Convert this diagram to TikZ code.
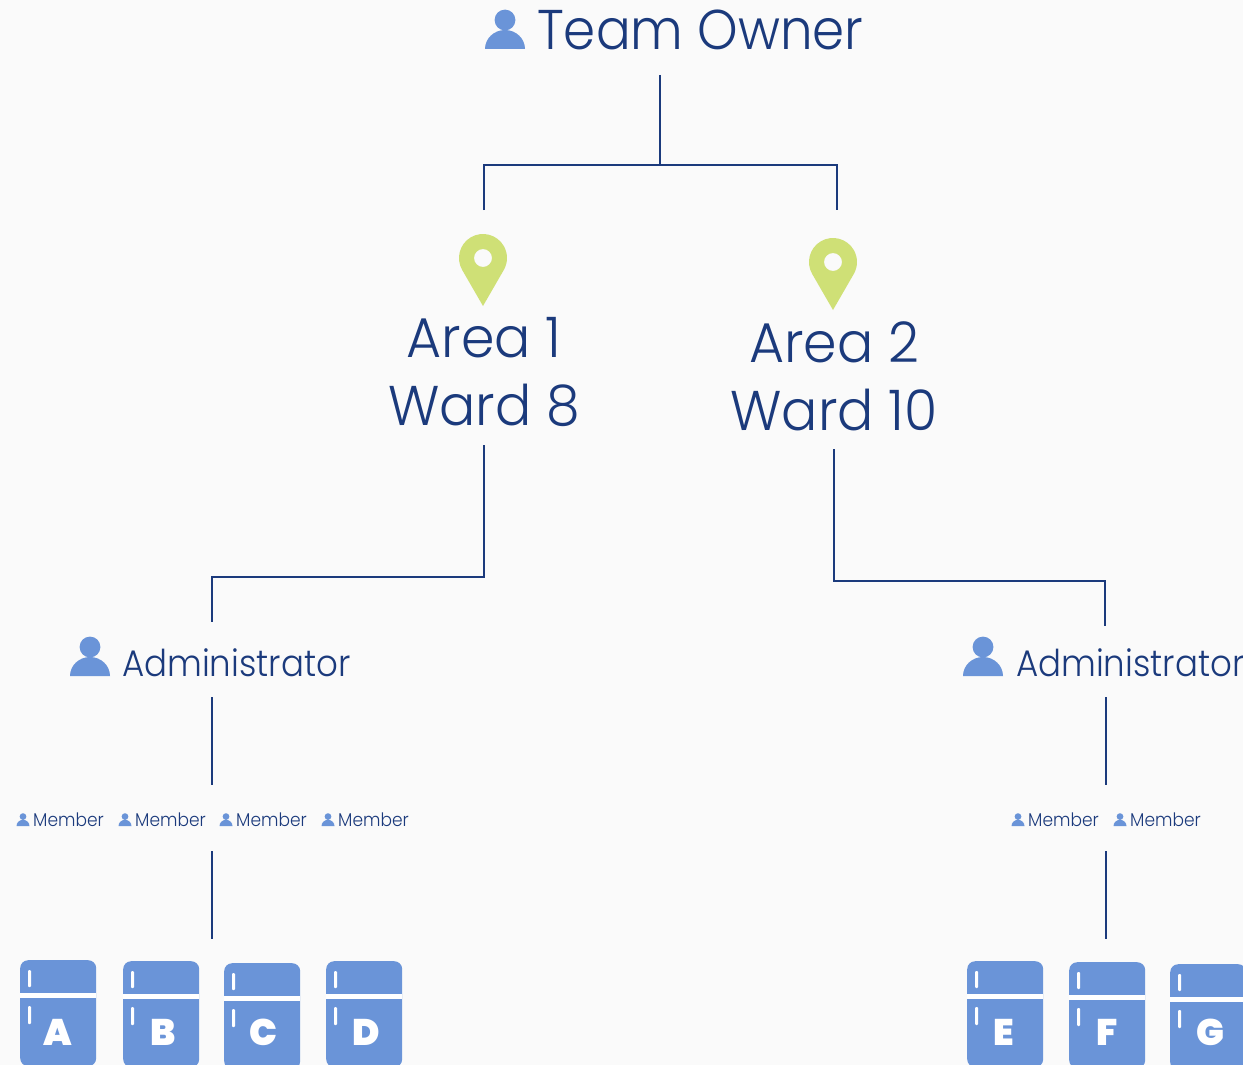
\documentclass[tikz,border=0pt]{standalone}
\usepackage{fontspec}
\setmainfont{Poppins}[UprightFont=* Light,FakeStretch=0.92]
\newfontfamily\areafont{Poppins}[UprightFont=* Light,FakeStretch=0.96]
\newfontfamily\letterfont{Poppins}[UprightFont=* Black]
\usetikzlibrary{positioning}

\definecolor{navy}{HTML}{1B3A7C}
\definecolor{iconblue}{HTML}{6A94D8}
\definecolor{pingreen}{HTML}{CFE076}
\definecolor{paper}{HTML}{FAFAFA}

\tikzset{
  personicon/.pic={
    \fill[iconblue] (-1,0) arc[start angle=180,end angle=360,x radius=1,y radius=0.95] -- cycle;
    \fill[iconblue] (0,-1.45) circle[radius=0.52];
  },
  pinicon/.pic={
    \fill[pingreen,even odd rule] (0,48) -- (-20.8,12)
      arc[start angle=150,end angle=390,radius=24] -- cycle
      (0,0) circle[radius=9];
  }
}

\begin{document}
\begin{tikzpicture}[
          x=1pt,y=-1pt,
          link/.style={draw=navy,line width=1.5pt},
          ownertext/.style={text=navy,font=\fontsize{56}{68}\selectfont,anchor=base west,inner sep=0pt},
          areatext/.style={text=navy,font=\areafont\fontsize{56}{68}\selectfont,align=center,inner sep=0pt},
          admintext/.style={text=navy,font=\fontsize{37}{40}\selectfont,anchor=base west,inner sep=0pt},
          membertext/.style={text=navy,font=\fontsize{18.5}{20}\selectfont,anchor=base west,inner sep=0pt},
          fridgebody/.style={fill=iconblue,rounded corners=8pt,minimum width=76pt,minimum height=106pt,inner sep=0pt,anchor=north west},
          fridgeletter/.style={text=white,font=\letterfont\fontsize{37}{40}\selectfont,inner sep=0pt}
          ]

          \useasboundingbox (0,0) rectangle (1243,1065);
          \clip (0,0) rectangle (1243,1065);
          \fill[paper] (0,0) rectangle (1243,1065);

          % top of the tree
          \pic[scale=20] at (505,49) {personicon};
          \node[ownertext] (owner) at (537,50) {Team Owner};

          \pic at (483,258) {pinicon};
          \pic at (833,262) {pinicon};
          \node[areatext] (area1) at (484,372.5) {Area 1\\Ward 8};
          \node[areatext] (area2) at (834,376.5) {Area 2\\Ward 10};

          % administrators
          \pic[scale=20] at (90,676) {personicon};
          \pic[scale=20] at (983,676) {personicon};
          \node[admintext] (admin1) at (122,676) {Administrator};
          \node[admintext] (admin2) at (1016,676) {Administrator};

          % members
          \foreach \name/\x in {a/23,b/125,c/226,d/328,e/1018,f/1120}{
            \pic[scale=6.5] at (\x,826) {personicon};
            \node[membertext] (member\name) at (\x+10,826) {Member};
          }

          % fridges
          \foreach \name/\x/\y/\lx in {A/20/960/58,B/123/961/163,C/224/963/263,D/326/961/366,E/967/961/1004,F/1069/962/1107,G/1170/964/1210}{
            \node[fridgebody] (fridge\name) at (\x,\y) {};
            \fill[white] (\x,\y+33) rectangle (\x+76,\y+38);
            \fill[white,rounded corners=1pt] (\x+8,\y+10) rectangle (\x+11,\y+27);
            \fill[white,rounded corners=1pt] (\x+8,\y+46) rectangle (\x+11,\y+64);
            \node[fridgeletter] (letter\name) at (\lx,1032) {\name};
          }

          % free ends of the connectors
          \coordinate (ownerout) at (660,75);
          \coordinate (ownerfork) at (660,165);
          \coordinate (pin1top) at (484,210);
          \coordinate (pin2top) at (837,210);
          \coordinate (area1out) at (484,445);
          \coordinate (area2out) at (834,449);
          \coordinate (elbow1) at (212,577);
          \coordinate (elbow2) at (1105,581);
          \coordinate (admin1top) at (212,622);
          \coordinate (admin2top) at (1105,626);
          \coordinate (admin1out) at (212,697);
          \coordinate (admin2out) at (1106,697);
          \coordinate (members1top) at (212,785);
          \coordinate (members2top) at (1106,785);
          \coordinate (members1out) at (212,851);
          \coordinate (members2out) at (1106,851);
          \coordinate (fridges1top) at (212,939);
          \coordinate (fridges2top) at (1106,939);

          \path[link] (ownerout) -- (ownerfork)
          (pin1top) |- (ownerfork) -| (pin2top)
          (area1out) |- (elbow1) -- (admin1top)
          (area2out) |- (elbow2) -- (admin2top)
          (admin1out) -- (members1top)
          (admin2out) -- (members2top)
          (members1out) -- (fridges1top)
          (members2out) -- (fridges2top)
          ;
        \end{tikzpicture}
\end{document}
